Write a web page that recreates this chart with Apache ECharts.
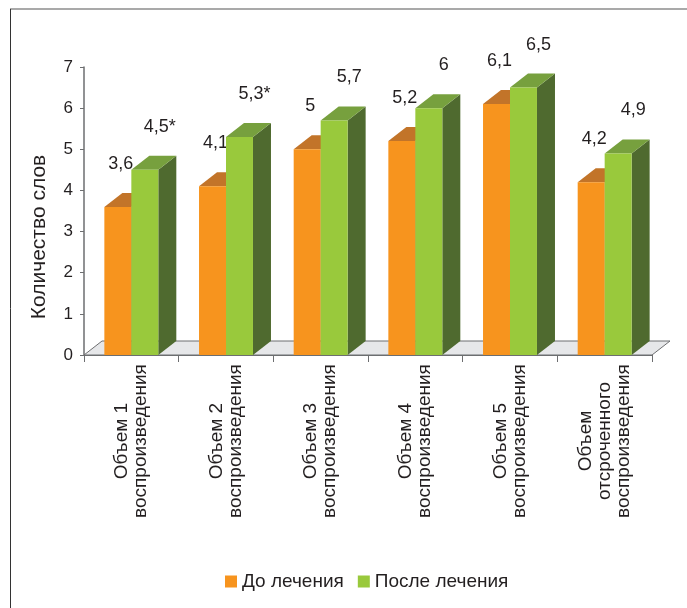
<!DOCTYPE html>
<html>
<head>
<meta charset="utf-8">
<script src="https://cdn.jsdelivr.net/npm/echarts@6/dist/echarts.min.js"></script>
<style>
  html, body { margin: 0; padding: 0; background: #fff; }
  #chart { width: 687px; height: 608px; }
</style>
</head>
<body>
<div id="chart"></div>
<script>
const categories = [
  'Объем 1\nвоспроизведения',
  'Объем 2\nвоспроизведения',
  'Объем 3\nвоспроизведения',
  'Объем 4\nвоспроизведения',
  'Объем 5\nвоспроизведения',
  'Объем\nотсроченного\nвоспроизведения'
]
const seriesNames = ['До лечения', 'После лечения']
const beforeValues = [3.6, 4.1, 5, 5.2, 6.1, 4.2]
const afterValues = [4.5, 5.3, 5.7, 6, 6.5, 4.9]
const afterNotes = ['*', '*', '', '', '', '']
const yTicks = [0, 1, 2, 3, 4, 5, 6, 7]

const FONT = '"Liberation Sans", Arial, sans-serif'
const TEXT = '#231f20'
const AXIS = '#6d6e70'
// глубина "3D" — смещение задней грани
const DX = 18
const DY = -14

const orange = {front: '#f7941e', top: '#c27429', side: '#a85f1e'}
const green = {front: '#99c93c', top: '#77a03e', side: '#4f6a2f'}

const mChart = echarts.init(document.getElementById('chart'))

// рисуем псевдо-3D столбик: передняя грань, верх, бок и подпись
const bar3d = (side, colors, notes, labelDx) => (params, api) => {
  const i = params.dataIndex
  const v = api.value(1)
  const top = api.coord([api.value(0), v])
  const base = api.coord([api.value(0), 0])
  const band = api.size([1, 0])[0]
  const w = band * 0.285
  const x0 = side < 0 ? top[0] - w : top[0]
  const x1 = x0 + w
  const yt = top[1]
  const yb = base[1]
  const text = String(v).replace('.', ',') + (notes ? notes[i] : '')
  return {
    type: 'group',
    children: [
      {type: 'polygon', shape: {points: [[x1, yb], [x1 + DX, yb + DY], [x1 + DX, yt + DY], [x1, yt]]}, style: {fill: colors.side}},
      {type: 'polygon', shape: {points: [[x0, yt], [x1, yt], [x1 + DX, yt + DY], [x0 + DX, yt + DY]]}, style: {fill: colors.top}},
      {type: 'rect', shape: {x: x0, y: yt, width: w, height: yb - yt}, style: {fill: colors.front}},
      {
        type: 'text', x: (x0 + x1) / 2 + labelDx, y: yt - 43,
        style: {text, fill: TEXT, font: '18px ' + FONT, align: 'center', verticalAlign: 'middle'}
      }
    ]
  }
}

// "пол" диаграммы
const floorItem = (params) => {
  const c = params.coordSys
  const yb = c.y + c.height
  return {
    type: 'polygon',
    shape: {points: [[c.x, yb], [c.x + c.width, yb], [c.x + c.width + DX, yb + DY], [c.x + DX, yb + DY]]},
    style: {fill: '#e6e7e9', stroke: AXIS, lineWidth: 1}
  }
}

const option = {
  animation: false,
  textStyle: {fontFamily: FONT},
  grid: {left: 84, right: 35, top: 67, bottom: 253},
  graphic: [
    {type: 'line', shape: {x1: 10, y1: 9, x2: 687, y2: 9}, style: {stroke: '#8c8c8c', lineWidth: 1.5}},
    {type: 'line', shape: {x1: 10.5, y1: 9, x2: 10.5, y2: 608}, style: {stroke: '#333', lineWidth: 1}}
  ],
  legend: {
    data: seriesNames,
    left: 220,
    top: 567,
    icon: 'rect',
    itemWidth: 12,
    itemHeight: 12,
    itemGap: 14,
    textStyle: {fontSize: 19, color: TEXT, fontFamily: FONT}
  },
  xAxis: {
    type: 'category',
    data: categories,
    axisLine: {lineStyle: {color: AXIS, width: 1}},
    axisTick: {show: true, length: 7, interval: 0, lineStyle: {color: AXIS}},
    axisLabel: {
      interval: 0,
      rotate: 90,
      align: 'center',
      verticalAlign: 'middle',
      margin: 86,
      fontSize: 19,
      lineHeight: 19,
      color: TEXT
    }
  },
  yAxis: {
    type: 'value',
    min: yTicks[0],
    max: yTicks[yTicks.length - 1],
    interval: 1,
    name: 'Количество слов',
    nameLocation: 'middle',
    nameRotate: 90,
    nameGap: 34,
    nameTextStyle: {fontSize: 21, color: TEXT, padding: [0, 52, 0, 0]},
    axisLine: {show: true, lineStyle: {color: AXIS, width: 1.5}},
    axisTick: {show: true, length: 4, lineStyle: {color: AXIS}},
    axisLabel: {fontSize: 17, margin: 11, color: TEXT},
    splitLine: {show: false}
  },
  series: [
    {
      type: 'custom',
      name: 'floor',
      z: 1,
      silent: true,
      renderItem: floorItem,
      data: [[0, 0]]
    },
    {
      type: 'custom',
      name: seriesNames[0],
      z: 2,
      itemStyle: {color: orange.front},
      encode: {x: 0, y: 1},
      renderItem: bar3d(-1, orange, null, 3),
      data: beforeValues.map((v, i) => [i, v])
    },
    {
      type: 'custom',
      name: seriesNames[1],
      z: 3,
      itemStyle: {color: green.front},
      encode: {x: 0, y: 1},
      renderItem: bar3d(1, green, afterNotes, 15),
      data: afterValues.map((v, i) => [i, v])
    }
  ]
}
mChart.setOption(option)
</script>
</body>
</html>
